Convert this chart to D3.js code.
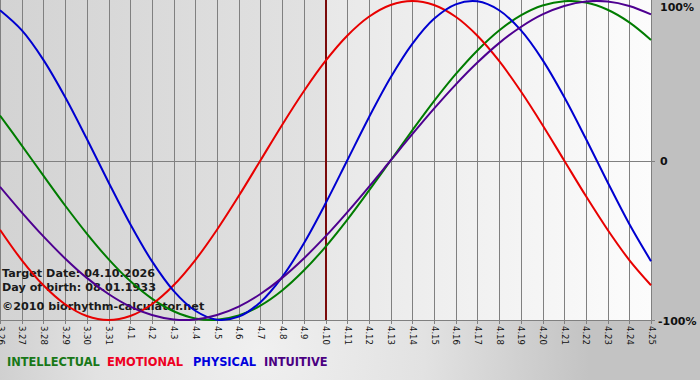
<!DOCTYPE html>
<html>
<head>
<meta charset="utf-8">
<script src="https://cdn.jsdelivr.net/npm/d3@7"></script>
<style>
  html, body { margin: 0; padding: 0; background: #c0c0c0; }
  svg { display: block; }
</style>
</head>
<body>
<svg id="chart"></svg>
<script>
// day labels along the bottom (month.day)
var days = ["3.26","3.27","3.28","3.29","3.30","3.31","4.1","4.2","4.3","4.4","4.5","4.6","4.7","4.8","4.9",
            "4.10","4.11","4.12","4.13","4.14","4.15","4.16","4.17","4.18","4.19","4.20","4.21","4.22","4.23","4.24","4.25"];

// cycle values in percent, one per day
var intellectual = [28.2, 9.5, -9.5, -28.2, -45.8, -61.8, -75.6, -86.6, -94.5, -99.0, -99.9, -97.2, -91.0, -81.5, -69.0,
                    -54.1, -37.2, -18.9, 0, 18.9, 37.2, 54.1, 69.0, 81.5, 91.0, 97.2, 99.9, 99.0, 94.5, 86.6, 75.6];
var emotional    = [-43.4, -62.4, -78.2, -90.1, -97.5, -100, -97.5, -90.1, -78.2, -62.4, -43.4, -22.3, 0, 22.3, 43.4,
                    62.4, 78.2, 90.1, 97.5, 100, 97.5, 90.1, 78.2, 62.4, 43.4, 22.3, 0, -22.3, -43.4, -62.4, -78.2];
var physical     = [94.2, 81.7, 63.1, 39.8, 13.6, -13.6, -39.8, -63.1, -81.7, -94.2, -99.8, -97.9, -88.8, -73.1, -52.0,
                    -27.0, 0, 27.0, 52.0, 73.1, 88.8, 97.9, 99.8, 94.2, 81.7, 63.1, 39.8, 13.6, -13.6, -39.8, -63.1];
var intuitive    = [-16.5, -32.5, -47.6, -61.4, -73.6, -83.7, -91.6, -96.9, -99.7, -99.7, -96.9, -91.6, -83.7, -73.6, -61.4,
                    -47.6, -32.5, -16.5, 0, 16.5, 32.5, 47.6, 61.4, 73.6, 83.7, 91.6, 96.9, 99.7, 99.7, 96.9, 91.6];

var targetIndex = 15;
var infoLines = ["Target Date: 04.10.2026", "Day of birth: 08.01.1933", "\u00a92010 biorhythm-calculator.net"];

var series = [
    { name: "INTELLECTUAL", values: intellectual, color: "#007c00", legend: "#187818" },
    { name: "EMOTIONAL",    values: emotional,    color: "#e80000", legend: "#ee0022" },
    { name: "PHYSICAL",     values: physical,     color: "#0000d0", legend: "#0000dd" },
    { name: "INTUITIVE",    values: intuitive,    color: "#4e0090", legend: "#4b0082" }
];

var W = 700, H = 380;
var plot = { left: 0, top: 0, width: 651, height: 320 };

var svg = d3.select("#chart").attr("width", W).attr("height", H);
var defs = svg.append("defs");

// background gradients
var gPast = defs.append("linearGradient").attr("id", "past").attr("x1", "0").attr("x2", "1");
gPast.append("stop").attr("offset", "0").attr("stop-color", "#d3d3d3");
gPast.append("stop").attr("offset", "1").attr("stop-color", "#e2e2e2");
var gFuture = defs.append("linearGradient").attr("id", "future").attr("x1", "0").attr("x2", "1");
gFuture.append("stop").attr("offset", "0").attr("stop-color", "#e8e8e8");
gFuture.append("stop").attr("offset", "1").attr("stop-color", "#fcfcfc");
var gBottom = defs.append("radialGradient").attr("id", "bottomglow")
    .attr("gradientUnits", "userSpaceOnUse").attr("cx", 260).attr("cy", 350).attr("r", 330);
gBottom.append("stop").attr("offset", "0").attr("stop-color", "#f0f0f0");
gBottom.append("stop").attr("offset", "0.5").attr("stop-color", "#e2e2e2");
gBottom.append("stop").attr("offset", "1").attr("stop-color", "#c3c3c3");

svg.append("rect").attr("width", W).attr("height", H).attr("fill", "#c0c0c0");
svg.append("rect").attr("x", 0).attr("y", plot.height).attr("width", W).attr("height", H - plot.height)
    .attr("fill", "url(#bottomglow)");

var x = d3.scaleLinear().domain([0, days.length - 1]).range([plot.left, plot.left + plot.width]);
var y = d3.scaleLinear().domain([-100, 100]).range([plot.top + plot.height, plot.top + 1]);

var g = svg.append("g");

g.append("rect").attr("x", x(0)).attr("y", 0)
    .attr("width", x(targetIndex) - x(0)).attr("height", y(-100)).attr("fill", "url(#past)");
g.append("rect").attr("x", x(targetIndex)).attr("y", 0)
    .attr("width", x(days.length - 1) - x(targetIndex)).attr("height", y(-100)).attr("fill", "url(#future)");

// vertical day grid + ticks
g.append("g").selectAll("line").data(days).join("line")
    .attr("x1", function(d, i) { return Math.round(x(i)) + 0.5; })
    .attr("x2", function(d, i) { return Math.round(x(i)) + 0.5; })
    .attr("y1", 0).attr("y2", y(-100) + 4)
    .attr("stroke", "#808080").attr("stroke-width", 1);

// horizontal lines at 0 and -100
g.append("g").selectAll("line").data([0, -100]).join("line")
    .attr("x1", x(0)).attr("x2", x(days.length - 1) + 4)
    .attr("y1", function(d) { return Math.round(y(d)) + 0.5; })
    .attr("y2", function(d) { return Math.round(y(d)) + 0.5; })
    .attr("stroke", "#808080").attr("stroke-width", 1);

// day labels, rotated
g.append("g").selectAll("text").data(days).join("text")
    .attr("transform", function(d, i) { return "translate(" + (x(i) + 0.5) + "," + (y(-100) + 6) + ") rotate(90)"; })
    .attr("dy", "0.35em")
    .style("font-family", "DejaVu Sans, Verdana, sans-serif")
    .style("font-size", "8.5px")
    .attr("fill", "#111")
    .text(function(d) { return d; });

// percent labels on the right
var pct = [{ v: 100, t: "100%", dy: 6 }, { v: 0, t: "0", dy: 1 }, { v: -100, t: "-100%", dy: 1 }];
g.append("g").selectAll("text").data(pct).join("text")
    .attr("x", function(d) { return d.v < 0 ? 658 : 660; })
    .attr("y", function(d) { return y(d.v) + d.dy; })
    .attr("dominant-baseline", "central")
    .style("font-family", "DejaVu Sans, Verdana, sans-serif")
    .style("font-size", "11px").style("font-weight", "bold")
    .attr("fill", "#111")
    .text(function(d) { return d.t; });

// target date marker
g.append("line")
    .attr("x1", x(targetIndex) + 0.5).attr("x2", x(targetIndex) + 0.5)
    .attr("y1", 0).attr("y2", y(-100))
    .attr("stroke", "#7a0a0a").attr("stroke-width", 2);

// info text
g.append("g").selectAll("text").data(infoLines).join("text")
    .attr("x", 2)
    .attr("y", function(d, i) { return [277, 291, 310][i]; })
    .style("font-family", "DejaVu Sans, Verdana, sans-serif")
    .style("font-size", "11.2px").style("font-weight", "bold")
    .attr("fill", "#1a1a1a")
    .text(function(d) { return d; });

// the four curves
var line = d3.line()
    .x(function(d, i) { return x(i); })
    .y(function(d) { return y(d); })
    .curve(d3.curveCatmullRom);

g.append("g").selectAll("path").data(series).join("path")
    .attr("d", function(s) { return line(s.values); })
    .attr("fill", "none")
    .attr("stroke", function(s) { return s.color; })
    .attr("stroke-width", 2)
    .attr("stroke-linejoin", "round");

// legend
var legendX = [7, 107, 193, 264];
svg.append("g").selectAll("text").data(series).join("text")
    .attr("x", function(s, i) { return legendX[i]; })
    .attr("y", 366)
    .style("font-family", "DejaVu Sans, Verdana, sans-serif")
    .style("font-size", "11.4px").style("font-weight", "bold")
    .attr("fill", function(s) { return s.legend; })
    .text(function(s) { return s.name; });
</script>
</body>
</html>
